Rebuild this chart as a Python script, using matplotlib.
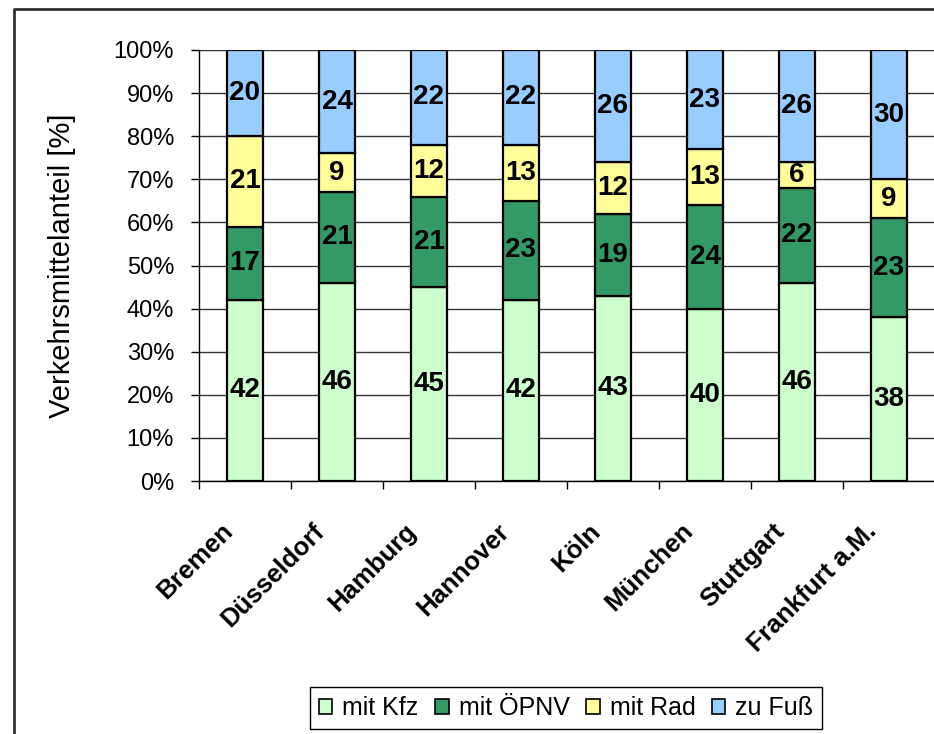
import matplotlib
matplotlib.use("Agg")
import matplotlib.pyplot as plt
import matplotlib.transforms as mtransforms
import numpy as np
from matplotlib.lines import Line2D
from matplotlib.patches import Patch

plt.rcParams['font.family'] = ['Liberation Sans', 'DejaVu Sans']

cities = ["Bremen", "Düsseldorf", "Hamburg", "Hannover", "Köln", "München", "Stuttgart", "Frankfurt a.M."]
series_names = ["mit Kfz", "mit ÖPNV", "mit Rad", "zu Fuß"]
kfz = [42, 46, 45, 42, 43, 40, 46, 38]
oepnv = [17, 21, 21, 23, 19, 24, 22, 23]
rad = [21, 9, 12, 13, 12, 13, 6, 9]
fuss = [20, 24, 22, 22, 26, 23, 26, 30]
colors = ["#CCFFCC", "#339966", "#FFFF99", "#99CCFF"]
ytick_labels = ["0%", "10%", "20%", "30%", "40%", "50%", "60%", "70%", "80%", "90%", "100%"]

W, H = 934, 734
fig = plt.figure(figsize=(W / 100, H / 100), dpi=100)
ax = fig.add_axes([199 / W, 1 - 481 / H, 736 / W, 431 / H])

data = np.array([kfz, oepnv, rad, fuss], dtype=float)
totals = data.sum(axis=0)
pct = data / totals * 100
x = np.arange(len(cities))
bottom = np.zeros(len(cities))
for i, name in enumerate(series_names):
    ax.bar(x, pct[i], 0.39, bottom=bottom, color=colors[i], edgecolor="black",
           linewidth=1.6, label=name, zorder=3)
    for j in range(len(cities)):
        ax.text(x[j], bottom[j] + pct[i][j] / 2, f"{int(data[i][j])}", ha="center", va="center",
                fontsize=20, fontweight="bold", zorder=4)
    bottom += pct[i]

ax.set_xlim(-0.5, len(cities) - 0.5)
ax.set_ylim(0, 100)
ax.set_yticks(np.arange(0, 101, 10))
ax.set_yticklabels(ytick_labels, fontsize=17)
ax.yaxis.grid(True, color="#333333", linewidth=1.0, zorder=0)
ax.set_axisbelow(True)
ax.tick_params(axis="y", direction="out", length=6, width=1, pad=12, colors="black")

ax.set_xticks(x)
ax.set_xticklabels(cities, rotation=45, ha="right", va="center", rotation_mode="anchor",
                   fontsize=18.5, fontweight="bold")
ax.tick_params(axis="x", length=0, pad=32)
offset = mtransforms.ScaledTranslation(-16 / 100, -2 / 100, fig.dpi_scale_trans)
for lab in ax.get_xticklabels():
    lab.set_transform(lab.get_transform() + offset)
ax.set_xticks(np.arange(-0.5, len(cities), 1.0), minor=True)
ax.tick_params(axis="x", which="minor", direction="out", length=6, width=1)

for s in ["top", "right"]:
    ax.spines[s].set_visible(False)
ax.spines["left"].set_linewidth(1)
ax.spines["bottom"].set_linewidth(1)

ax.set_ylabel("Verkehrsmittelanteil [%]", fontsize=21, labelpad=27)

handles = [Patch(facecolor=c, edgecolor="black", linewidth=1.2) for c in colors]
leg = fig.legend(handles, series_names, loc="center", bbox_to_anchor=(566 / W, 1 - 708 / H),
                 ncol=4, fontsize=18, frameon=True, fancybox=False, framealpha=1,
                 edgecolor="black", handlelength=0.55, handleheight=0.55, handletextpad=0.4,
                 columnspacing=0.65, borderpad=0.35)
leg.get_frame().set_linewidth(1.0)

# outer chart frame
fig.add_artist(Line2D([13.5 / W, 13.5 / W, 1.0], [0.0, 1 - 8.5 / H, 1 - 8.5 / H],
                      transform=fig.transFigure, color="#333333", linewidth=2))

fig.savefig("out.png", dpi=100)
